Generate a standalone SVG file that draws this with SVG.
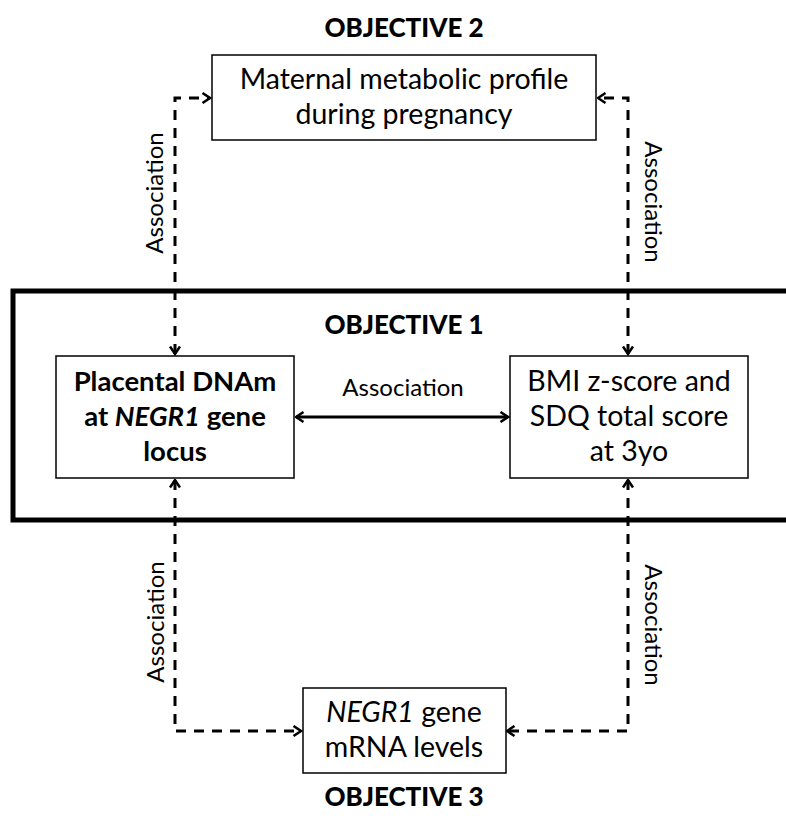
<svg xmlns="http://www.w3.org/2000/svg" width="786" height="820" viewBox="0 0 786 820">
<defs>
<marker id="chev" viewBox="0 0 12 12" refX="10.5" refY="6" markerWidth="12" markerHeight="12" markerUnits="userSpaceOnUse" orient="auto-start-reverse">
<path d="M3,1 L10.5,6 L3,11" fill="none" stroke="#000" stroke-width="2.5"/>
</marker>
</defs>
<style>
.box{fill:#fff;stroke:#000;stroke-width:1.5}
.t{font-family:Lato,"Liberation Sans",sans-serif;font-size:28.5px;fill:#000;text-anchor:middle}
.b{font-weight:bold;font-size:27.5px}
.h{font-family:Lato,"Liberation Sans",sans-serif;font-size:26px;font-weight:900;fill:#000;text-anchor:middle}
.lab{font-family:Lato,"Liberation Sans",sans-serif;font-size:24px;fill:#000;text-anchor:middle}
.d{fill:none;stroke:#000;stroke-width:3;stroke-dasharray:10 8}
.s{fill:none;stroke:#000;stroke-width:3}
</style>
<rect x="0" y="0" width="786" height="820" fill="#fff"/>
<g id="frame"><rect x="13" y="291" width="790" height="229" fill="none" stroke="#000" stroke-width="5"/></g>
<text class="h" x="404" y="37">OBJECTIVE 2</text>
<text class="h" x="404" y="334">OBJECTIVE 1</text>
<text class="h" x="404" y="806">OBJECTIVE 3</text>
<g id="connectors">
<path class="d" d="M175,354 L175,98 L210,98" marker-start="url(#chev)" marker-end="url(#chev)"/>
<path class="d" d="M628,354 L628,98 L598,98" marker-start="url(#chev)" marker-end="url(#chev)"/>
<path class="d" d="M175,480 L175,731 L301,731" marker-start="url(#chev)" marker-end="url(#chev)"/>
<path class="d" d="M628,480 L628,731 L507,731" marker-start="url(#chev)" marker-end="url(#chev)"/>
<path class="s" d="M296,417 L508,417" marker-start="url(#chev)" marker-end="url(#chev)"/>
<text class="lab" x="403" y="396">Association</text>
<text class="lab" transform="translate(163,193) rotate(-90)">Association</text>
<text class="lab" transform="translate(645,202) rotate(90)">Association</text>
<text class="lab" transform="translate(164,622) rotate(-90)">Association</text>
<text class="lab" transform="translate(645,625) rotate(90)">Association</text>
</g>
<g id="maternal">
<rect class="box" x="212" y="55" width="384" height="85"/>
<text class="t" x="404" y="89">Maternal metabolic profile</text>
<text class="t" x="404" y="124">during pregnancy</text>
</g>
<g id="dnam">
<rect class="box" x="56" y="356" width="238" height="122"/>
<text class="t b" x="175" y="391">Placental DNAm</text>
<text class="t b" x="175" y="426">at <tspan font-style="italic">NEGR1</tspan> gene</text>
<text class="t b" x="175" y="461">locus</text>
</g>
<g id="bmi">
<rect class="box" x="510" y="356" width="238" height="122"/>
<text class="t" x="629" y="391">BMI z-score and</text>
<text class="t" x="629" y="426">SDQ total score</text>
<text class="t" x="629" y="461">at 3yo</text>
</g>
<g id="mrna">
<rect class="box" x="303" y="688" width="203" height="85"/>
<text class="t" x="404" y="722"><tspan font-style="italic">NEGR1</tspan> gene</text>
<text class="t" x="404" y="757">mRNA levels</text>
</g>
</svg>
